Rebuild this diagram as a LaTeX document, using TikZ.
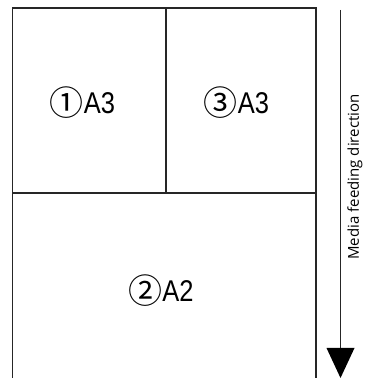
\documentclass[tikz,border=0pt]{standalone}
\usepackage{fontspec}
\setmainfont{Liberation Sans}
\newfontfamily\circfont{Noto Sans CJK JP}
\newfontfamily\narrowfont[FakeStretch=0.85]{Liberation Sans}
\newfontfamily\labelfont{Open Sans}
\newcommand{\circnum}[1]{\raisebox{-2pt}{\circfont\fontsize{34}{34}\selectfont\char"#1}}
\begin{document}
\begin{tikzpicture}[x=1pt,y=1pt,
  frame/.style={line width=1.5pt, draw=black!85},
  celllabel/.style={inner sep=0pt, font=\narrowfont\fontsize{30}{30}\selectfont},
  dirlabel/.style={inner sep=0pt, rotate=90, font=\labelfont\fontsize{15}{16}\selectfont}]
\useasboundingbox (0,0) rectangle (372,378);
% outer frame (open at the bottom)
\coordinate (bl) at (12.5,0);
\coordinate (tl) at (12.5,370);
\coordinate (tr) at (316,370);
\coordinate (br) at (316,0);
\coordinate (ml) at (12.5,185);
\coordinate (mr) at (316,185);
\coordinate (tm) at (166,370);
\coordinate (mm) at (166,185);
\draw[frame] (bl) -- (tl) -- (tr) -- (br);
\draw[frame] (ml) -- (mr);
\draw[frame] (tm) -- (mm);
% labels
\node[celllabel] (c1) at (82.5,275) {\circnum{2460}A3};
\node[celllabel] (c3) at (236.5,275) {\circnum{2462}A3};
\node[celllabel] (c2) at (161,87) {\circnum{2461}A2};
% feeding arrow
\coordinate (as) at (340.5,368);
\coordinate (ae) at (340.5,30);
\coordinate (tipl) at (326.5,30);
\coordinate (tipr) at (354.5,30);
\coordinate (tip) at (340.5,0);
\draw[line width=1.5pt, draw=black!85] (as) -- (ae);
\fill[black] (tipl) -- (tipr) -- (tip) -- cycle;
\node[dirlabel] (dir) at (355,201) {Media feeding direction};
\end{tikzpicture}
\end{document}
